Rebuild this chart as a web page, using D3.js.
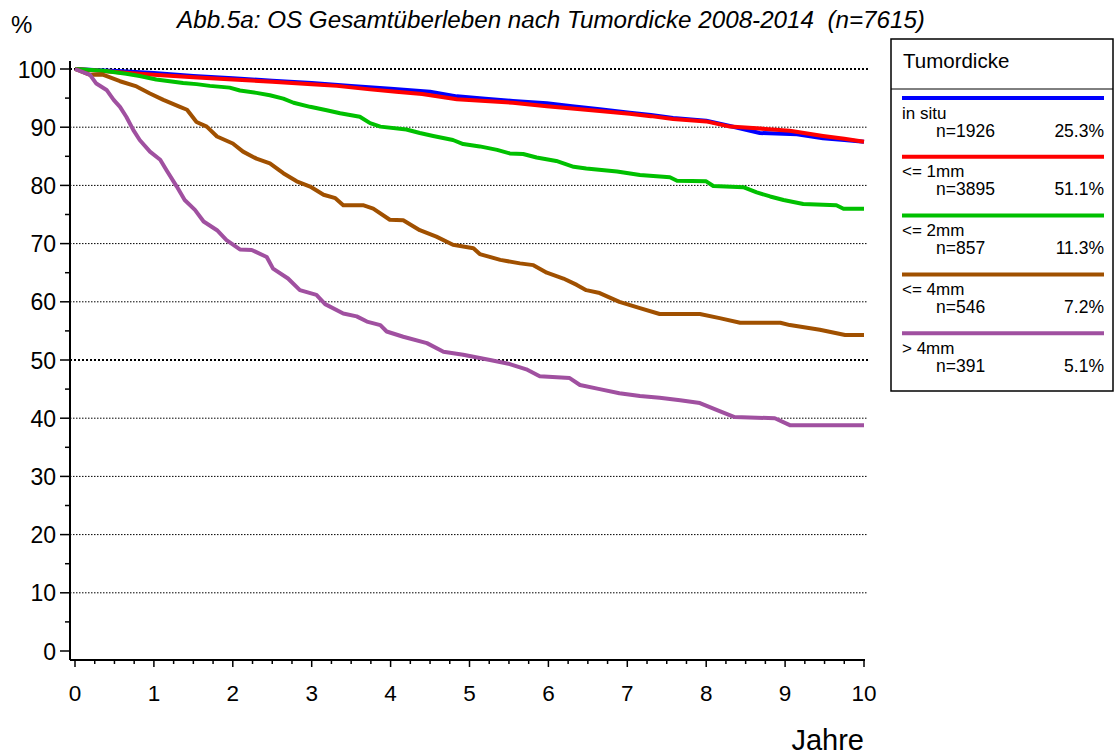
<!DOCTYPE html>
<html>
<head>
<meta charset="utf-8">
<script src="https://cdn.jsdelivr.net/npm/d3@7"></script>
<style>
  body { margin: 0; background: #fff; }
  text { font-family: "Liberation Sans", Arial, sans-serif; fill: #000; }
</style>
</head>
<body>
<div id="container"></div>
<script>
// Kaplan-Meier OS nach Tumordicke

const width = 1115, height = 756

const groups = ["in situ", "<= 1mm", "<= 2mm", "<= 4mm", "> 4mm"]
const counts = ["n=1926", "n=3895", "n=857", "n=546", "n=391"]
const shares = ["25.3%", "51.1%", "11.3%", "7.2%", "5.1%"]
const colors = ["#0000ff", "#ff0000", "#00c000", "#a05000", "#a050a0"]

const yTicks = [0, 10, 20, 30, 40, 50, 60, 70, 80, 90, 100]
const xTicks = [0, 1, 2, 3, 4, 5, 6, 7, 8, 9, 10]

// [Jahre, %]
const inSitu = [[0,100],[0.3,99.8],[0.6,99.6],[1,99.3],[1.5,98.8],[2,98.4],[2.5,98.0],[3,97.6],[3.5,97.1],[4,96.6],[4.5,96.1],[4.84,95.3],[5.2,94.9],[5.55,94.5],[5.98,94.1],[6.3,93.6],[6.65,93.1],[7.03,92.5],[7.3,92.1],[7.58,91.6],[8.0,91.1],[8.3,90.2],[8.68,89.0],[9.15,88.8],[9.48,88.1],[9.75,87.8],[10,87.5]]
const upTo1mm = [[0,100],[0.3,99.7],[0.6,99.4],[1,99.0],[1.5,98.6],[2,98.2],[2.5,97.8],[3,97.4],[3.32,97.1],[3.74,96.5],[4.07,96.1],[4.4,95.7],[4.84,94.8],[5.2,94.5],[5.55,94.2],[5.98,93.6],[6.3,93.2],[6.65,92.8],[7.03,92.3],[7.3,91.9],[7.58,91.4],[8.0,91.0],[8.3,90.1],[8.64,89.8],[9.06,89.4],[9.48,88.5],[9.75,88.0],[10,87.5]]
const upTo2mm = [[0,100],[0.36,99.7],[0.65,99.2],[0.82,98.8],[1.03,98.2],[1.2,97.9],[1.37,97.6],[1.54,97.4],[1.71,97.1],[1.96,96.8],[2.09,96.3],[2.3,95.9],[2.47,95.5],[2.64,94.9],[2.77,94.2],[2.98,93.5],[3.19,92.9],[3.36,92.4],[3.61,91.8],[3.74,90.7],[3.87,90.1],[4.2,89.6],[4.37,89.0],[4.54,88.5],[4.79,87.8],[4.92,87.1],[5.13,86.7],[5.35,86.1],[5.51,85.5],[5.68,85.4],[5.85,84.8],[6.1,84.2],[6.32,83.2],[6.48,82.9],[6.87,82.4],[7.16,81.8],[7.54,81.4],[7.63,80.8],[8.0,80.7],[8.09,79.9],[8.47,79.7],[8.64,78.8],[8.81,78.1],[8.98,77.5],[9.23,76.8],[9.65,76.6],[9.74,76.0],[10,76.0]]
const upTo4mm = [[0,100],[0.19,99.0],[0.36,99.0],[0.57,97.9],[0.78,97.0],[0.95,95.8],[1.12,94.7],[1.33,93.5],[1.42,93.0],[1.54,90.9],[1.67,90.1],[1.8,88.4],[2.0,87.2],[2.13,85.8],[2.3,84.6],[2.47,83.8],[2.64,82.1],[2.81,80.7],[2.98,79.8],[3.15,78.4],[3.3,77.8],[3.4,76.6],[3.65,76.6],[3.78,76.0],[3.99,74.1],[4.16,74.0],[4.37,72.3],[4.58,71.2],[4.79,69.8],[5.05,69.2],[5.13,68.2],[5.39,67.2],[5.64,66.6],[5.81,66.3],[5.98,65.0],[6.19,64.0],[6.36,62.9],[6.48,62.0],[6.65,61.5],[6.9,60.0],[7.16,58.9],[7.41,57.9],[7.92,57.9],[8.17,57.2],[8.43,56.4],[8.94,56.4],[9.06,56.0],[9.44,55.2],[9.76,54.3],[10,54.3]]
const over4mm = [[0,100],[0.19,99.0],[0.27,97.5],[0.4,96.4],[0.49,94.7],[0.57,93.5],[0.65,91.8],[0.74,89.5],[0.82,87.8],[0.95,85.8],[1.08,84.4],[1.16,82.6],[1.29,79.8],[1.39,77.5],[1.52,75.8],[1.63,73.8],[1.8,72.3],[1.92,70.6],[2.09,69.0],[2.24,68.9],[2.43,67.7],[2.51,65.7],[2.7,64.0],[2.85,62.0],[3.06,61.2],[3.17,59.6],[3.4,58.0],[3.57,57.5],[3.7,56.6],[3.87,56.0],[3.95,54.9],[4.16,54.0],[4.46,52.9],[4.67,51.4],[4.92,50.9],[5.26,50.0],[5.51,49.3],[5.72,48.4],[5.89,47.2],[6.27,46.9],[6.4,45.7],[6.65,45.0],[6.9,44.3],[7.16,43.8],[7.41,43.5],[7.67,43.1],[7.92,42.6],[8.17,41.2],[8.36,40.2],[8.87,40.0],[9.06,38.8],[10,38.8]]

const series = [inSitu, upTo1mm, upTo2mm, upTo4mm, over4mm]

const axisX = 70, axisY = 660
const x = d3.scaleLinear().domain([0, 10]).range([75, 864])
const y = d3.scaleLinear().domain([0, 100]).range([651, 69])

const svg = d3.select("#container").append("svg")
    .attr("width", width)
    .attr("height", height)

// title
svg.append("text")
    .attr("x", 551).attr("y", 28)
    .attr("text-anchor", "middle")
    .attr("xml:space", "preserve")
    .style("font-size", "24.2px")
    .style("font-style", "italic")
    .style("white-space", "pre")
    .text("Abb.5a: OS Gesamtüberleben nach Tumordicke 2008-2014  (n=7615)")

svg.append("text")
    .attr("x", 11).attr("y", 33)
    .style("font-size", "24px")
    .text("%")

// grid
svg.append("g").attr("id", "grid")
    .selectAll("line")
    .data(yTicks.filter(d => d > 0))
    .enter()
    .append("line")
    .attr("x1", axisX).attr("x2", 868)
    .attr("y1", d => y(d)).attr("y2", d => y(d))
    .attr("stroke", "#000")
    .attr("stroke-width", d => (d == 100 || d == 50) ? 2 : 1)
    .attr("stroke-dasharray", d => (d == 100 || d == 50) ? "2,2" : "1.5,1.5")

// y axis
const yAxis = svg.append("g")
yAxis.append("line")
    .attr("x1", axisX).attr("x2", axisX)
    .attr("y1", 61).attr("y2", axisY)
    .attr("stroke", "#000").attr("stroke-width", 2)
yAxis.selectAll(".ytick")
    .data(d3.range(0, 101, 5))
    .enter()
    .append("line")
    .attr("x1", d => d % 10 == 0 ? axisX - 10 : axisX - 5).attr("x2", axisX)
    .attr("y1", d => y(d)).attr("y2", d => y(d))
    .attr("stroke", "#000").attr("stroke-width", 1.5)
yAxis.selectAll("text")
    .data(yTicks)
    .enter()
    .append("text")
    .attr("x", 56)
    .attr("y", d => y(d) + 8.5)
    .attr("text-anchor", "end")
    .style("font-size", "23px")
    .text(d => d)

// x axis
const xAxis = svg.append("g")
xAxis.append("line")
    .attr("x1", axisX).attr("x2", 865)
    .attr("y1", axisY).attr("y2", axisY)
    .attr("stroke", "#000").attr("stroke-width", 2)
xAxis.selectAll(".xtick")
    .data(d3.range(0, 40.5, 1).map(d => d / 4))
    .enter()
    .append("line")
    .attr("x1", d => x(d)).attr("x2", d => x(d))
    .attr("y1", axisY).attr("y2", d => Number.isInteger(d) ? axisY + 7 : axisY + 4)
    .attr("stroke", "#000").attr("stroke-width", 1.5)
xAxis.selectAll("text")
    .data(xTicks)
    .enter()
    .append("text")
    .attr("x", d => x(d))
    .attr("y", 701)
    .attr("text-anchor", "middle")
    .style("font-size", "22.5px")
    .text(d => d)

svg.append("text")
    .attr("x", 864).attr("y", 750)
    .attr("text-anchor", "end")
    .style("font-size", "29px")
    .text("Jahre")

// curves
const line = d3.line()
    .x(d => x(d[0]))
    .y(d => y(d[1]))
    .curve(d3.curveLinear)

svg.append("g").attr("id", "curves")
    .selectAll("path")
    .data(series)
    .enter()
    .append("path")
    .attr("d", line)
    .attr("fill", "none")
    .attr("stroke", (d, i) => colors[i])
    .attr("stroke-width", 4)
    .attr("stroke-linejoin", "round")

// legend
const legend = svg.append("g").attr("id", "legend")
legend.append("rect")
    .attr("x", 891).attr("y", 39)
    .attr("width", 222).attr("height", 352)
    .attr("fill", "#fff")
    .attr("stroke", "#000").attr("stroke-width", 1.5)
legend.append("line")
    .attr("x1", 891).attr("x2", 1113)
    .attr("y1", 89).attr("y2", 89)
    .attr("stroke", "#000").attr("stroke-width", 1)
legend.append("text")
    .attr("x", 903).attr("y", 68)
    .style("font-size", "20.5px")
    .text("Tumordicke")

const items = legend.selectAll(".item")
    .data(groups)
    .enter()
    .append("g")
    .attr("transform", (d, i) => `translate(0,${98 + i * 58.8})`)
items.append("line")
    .attr("x1", 902).attr("x2", 1104)
    .attr("stroke", (d, i) => colors[i])
    .attr("stroke-width", 4)
items.append("text")
    .attr("x", 902).attr("y", 20.5)
    .style("font-size", "17px")
    .text(d => d)
items.append("text")
    .attr("x", 936).attr("y", 38.5)
    .style("font-size", "17.5px")
    .text((d, i) => counts[i])
items.append("text")
    .attr("x", 1104).attr("y", 38.5)
    .attr("text-anchor", "end")
    .style("font-size", "17.5px")
    .text((d, i) => shares[i])
</script>
</body>
</html>
